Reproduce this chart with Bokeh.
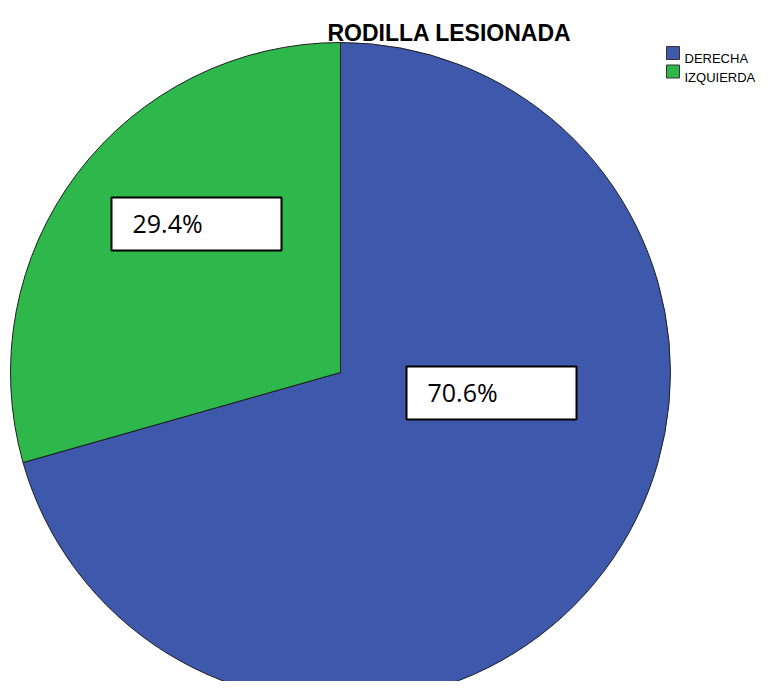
import math
from bokeh.plotting import figure
from bokeh.models import Range1d, ColumnDataSource
from bokeh.core.properties import value
from bokeh.embed import file_html
from bokeh.resources import INLINE

# ---- data ----
categories = ["DERECHA", "IZQUIERDA"]
percentages = [70.6, 29.4]
colors = ["#3E58AC", "#2EB84B"]
title_text = "RODILLA LESIONADA"

W, H = 760, 681
p = figure(width=W, height=H, output_backend="svg", toolbar_location=None,
           x_range=Range1d(0, W), y_range=Range1d(0, H), min_border=0)
p.axis.visible = False
p.grid.visible = False
p.outline_line_color = None
p.background_fill_color = "white"

# ---- pie ----
cx, cy, r = 340, 309, 330
total = sum(percentages)
starts, ends = [], []
cum = 0.0
for v in percentages:
    starts.append(math.pi / 2 - 2 * math.pi * cum / total)
    cum += v
    ends.append(math.pi / 2 - 2 * math.pi * cum / total)
src = ColumnDataSource(dict(start=starts, end=ends, color=colors, cat=categories))
p.wedge(x=cx, y=cy, radius=r, start_angle="start", end_angle="end",
        direction="clock", fill_color="color", line_color="#1e1e1e",
        line_width=1, source=src)

# ---- labels (boxes) ----
box_left = [406, 111]
box_bottom = [262, 431]
box_w, box_h = 170, 53
p.quad(left=box_left, right=[b + box_w for b in box_left],
       bottom=box_bottom, top=[b + box_h for b in box_bottom],
       fill_color="white", line_color="black", line_width=2)
p.text(x=[b + 21 for b in box_left], y=[b + box_h / 2 + 1 for b in box_bottom],
       text=[f"{v:.1f}%" for v in percentages],
       text_font=value("Open Sans"), text_font_size="25px",
       text_color="black", text_baseline="middle", text_align="left")

# ---- title ----
p.text(x=[449], y=[649], text=[title_text], text_font=value("Liberation Sans"),
       text_font_size="23px", text_font_style="bold", text_color="black",
       text_align="center", text_baseline="alphabetic")

# ---- legend ----
leg_x, leg_top, leg_step, sq = 666, 635, 18.5, 13
ys = [leg_top - i * leg_step for i in range(len(categories))]
p.quad(left=[leg_x] * len(categories), right=[leg_x + sq] * len(categories),
       top=ys, bottom=[y - sq for y in ys], fill_color=colors,
       line_color="#333333", line_width=1)
p.text(x=[leg_x + 18] * len(categories), y=[y - sq + 1 for y in ys],
       text=categories, text_font=value("Liberation Sans"),
       text_font_size="13px", text_color="black",
       text_align="left", text_baseline="alphabetic")

open("out.html", "w").write(file_html(p, INLINE))
